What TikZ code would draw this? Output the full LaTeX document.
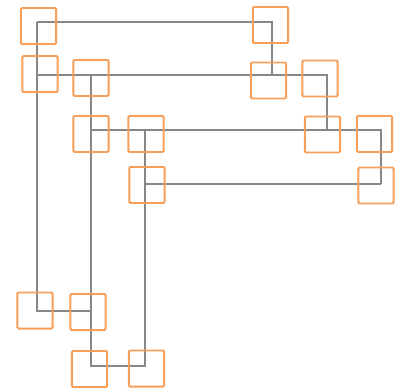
\documentclass[tikz,border=0pt]{standalone}
\definecolor{kastenfarbe}{RGB}{247,158,88}
\definecolor{linienfarbe}{RGB}{135,135,135}
\begin{document}
\begin{tikzpicture}[x=0.025cm,y=-0.025cm,
        linie/.style={draw=linienfarbe,line width=1.5pt},
        kasten/.style={draw=kastenfarbe,line width=1.4pt,rounded corners=0.8pt,
            minimum width=0.88cm,minimum height=0.9cm,inner sep=0pt}]
        \useasboundingbox (0,0) rectangle (401,391);
        % Gitterpunkte der Leitungen
        \coordinate (a1) at (37,22);
        \coordinate (a2) at (37,75);
        \coordinate (a5) at (37,311);
        \coordinate (b2) at (91,75);
        \coordinate (b3) at (91,130);
        \coordinate (b5) at (91,311);
        \coordinate (b6) at (91,366);
        \coordinate (c3) at (145,130);
        \coordinate (c4) at (145,184);
        \coordinate (c6) at (145,366);
        \coordinate (d1) at (272,22);
        \coordinate (d2) at (272,75);
        \coordinate (e2) at (327,75);
        \coordinate (e3) at (327,130);
        \coordinate (f3) at (381,130);
        \coordinate (f4) at (381,184);
        % Leitungen
        \draw[linie] (a1) -- (d1) -- (d2);
        \draw[linie] (a1) -- (a5) -- (b5);
        \draw[linie] (a2) -- (e2) -- (e3);
        \draw[linie] (b2) -- (b6) -- (c6) -- (c3);
        \draw[linie] (b3) -- (f3) -- (f4);
        \draw[linie] (c4) -- (f4);
        % Kaesten
        \node[kasten] (k1) at (38.5,26) {};
        \node[kasten] (k2) at (40,74) {};
        \node[kasten] (k3) at (91,78) {};
        \node[kasten] (k4) at (91,134) {};
        \node[kasten] (k5) at (146,134) {};
        \node[kasten] (k6) at (147,185) {};
        \node[kasten] (k7) at (270.5,25) {};
        \node[kasten] (k8) at (268.5,80.5) {};
        \node[kasten] (k9) at (320,78.5) {};
        \node[kasten] (k10) at (322.5,134.5) {};
        \node[kasten] (k11) at (374.5,134) {};
        \node[kasten] (k12) at (376,185.5) {};
        \node[kasten] (k13) at (35,310.5) {};
        \node[kasten] (k14) at (88,312) {};
        \node[kasten] (k15) at (89.5,369) {};
        \node[kasten] (k16) at (146.5,368.5) {};
    \end{tikzpicture}
\end{document}
